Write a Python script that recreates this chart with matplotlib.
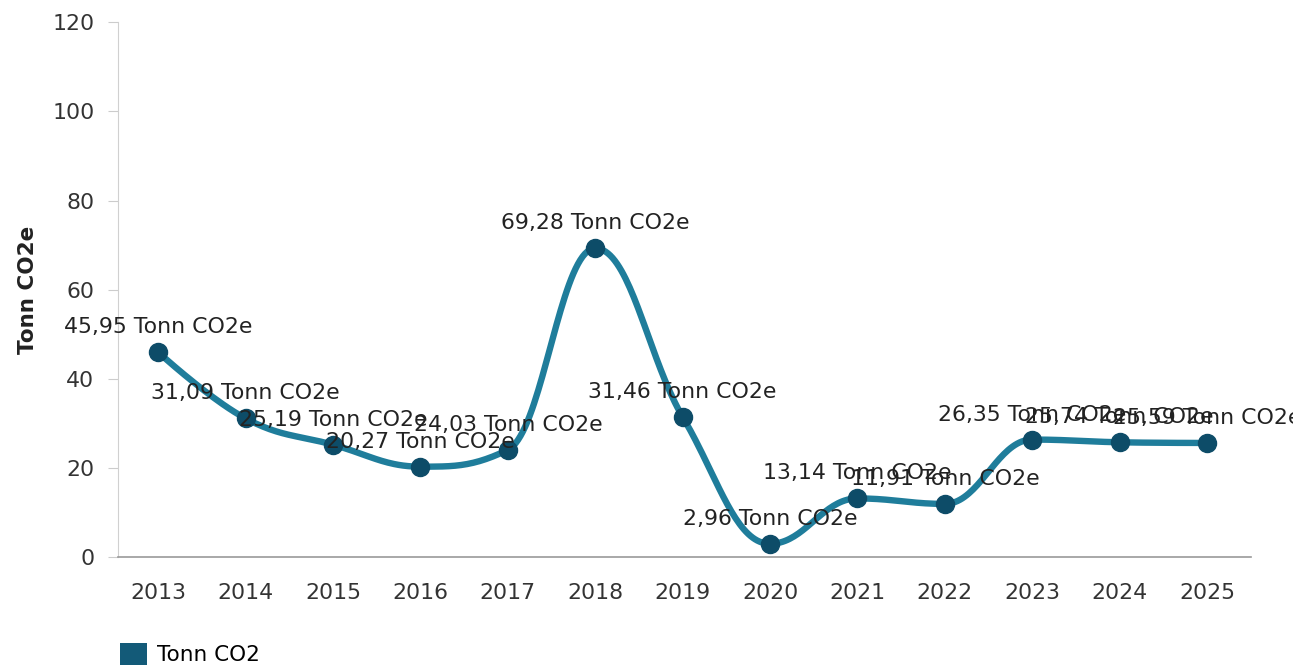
import numpy as np
import matplotlib
matplotlib.use("Agg")
import matplotlib.pyplot as plt
from matplotlib.patches import Patch

years = [2013, 2014, 2015, 2016, 2017, 2018, 2019, 2020, 2021, 2022, 2023, 2024, 2025]
values = [45.95, 31.09, 25.19, 20.27, 24.03, 69.28, 31.46, 2.96, 13.14, 11.91, 26.35, 25.74, 25.59]
labels = ["45,95 Tonn CO2e", "31,09 Tonn CO2e", "25,19 Tonn CO2e", "20,27 Tonn CO2e",
          "24,03 Tonn CO2e", "69,28 Tonn CO2e", "31,46 Tonn CO2e", "2,96 Tonn CO2e",
          "13,14 Tonn CO2e", "11,91 Tonn CO2e", "26,35 Tonn CO2e", "25,74 Tonn CO2e",
          "25,59 Tonn CO2e"]

line_color = '#1f7d9b'
marker_color = '#0d4c68'


def spline_path(x, y, steps=40, smoothing=1.5):
    # bezier spline through the points with clamped control points (drawing only)
    x = np.asarray(x, float)
    y = np.asarray(y, float)
    n = len(x)
    lc = [(x[i], y[i]) for i in range(n)]
    rc = [(x[i], y[i]) for i in range(n)]
    d = smoothing + 1
    for i in range(1, n - 1):
        lx = (smoothing * x[i] + x[i - 1]) / d
        ly = (smoothing * y[i] + y[i - 1]) / d
        rx = (smoothing * x[i] + x[i + 1]) / d
        ry = (smoothing * y[i] + y[i + 1]) / d
        corr = (ry - ly) * (rx - x[i]) / (rx - lx) + y[i] - ry
        ly += corr
        ry += corr
        if ly > max(y[i - 1], y[i]):
            ly = max(y[i - 1], y[i]); ry = 2 * y[i] - ly
        elif ly < min(y[i - 1], y[i]):
            ly = min(y[i - 1], y[i]); ry = 2 * y[i] - ly
        if ry > max(y[i + 1], y[i]):
            ry = max(y[i + 1], y[i]); ly = 2 * y[i] - ry
        elif ry < min(y[i + 1], y[i]):
            ry = min(y[i + 1], y[i]); ly = 2 * y[i] - ry
        lc[i] = (lx, ly)
        rc[i] = (rx, ry)
    t = np.linspace(0, 1, steps)[:, None]
    pts = []
    for i in range(n - 1):
        p0 = np.array([x[i], y[i]])
        p1 = np.array(rc[i])
        p2 = np.array(lc[i + 1])
        p3 = np.array([x[i + 1], y[i + 1]])
        b = ((1 - t) ** 3) * p0 + 3 * ((1 - t) ** 2) * t * p1 + 3 * (1 - t) * t ** 2 * p2 + t ** 3 * p3
        pts.append(b)
    pts = np.vstack(pts)
    return pts[:, 0], pts[:, 1]


fig = plt.figure(figsize=(12.93, 6.7), dpi=100)
ax = fig.add_axes([0.0913, 0.1687, 0.876, 0.798])

sx, sy = spline_path(years, values)
ax.plot(sx, sy, color=line_color, linewidth=4.6, solid_capstyle='round', zorder=2)
ax.plot(years, values, 'o', color=marker_color, markersize=13, zorder=3)

for x, y, t in zip(years, values, labels):
    ax.annotate(t, (x, y), xytext=(0, 18), textcoords='offset points',
                ha='center', va='center', fontsize=15.8, color='#222222',
                annotation_clip=False, zorder=4)

ax.set_xlim(2012.54, 2025.5)
ax.set_ylim(0, 120)
ax.set_xticks(years)
ax.set_yticks([0, 20, 40, 60, 80, 100, 120])
ax.tick_params(axis='x', length=0, pad=19, labelsize=15.8, labelcolor='#333333')
ax.tick_params(axis='y', length=7, width=0.8, color='#cccccc', pad=10,
               labelsize=15.8, labelcolor='#333333')
for side in ['top', 'right']:
    ax.spines[side].set_visible(False)
ax.spines['left'].set_color('#d0d0d0')
ax.spines['bottom'].set_color('#999999')
ax.spines['bottom'].set_linewidth(1.2)

ax.set_ylabel("Tonn CO2e", fontsize=15.5, fontweight='bold', color='#222222', labelpad=10)

handle = Patch(facecolor='#135a78', edgecolor='none')
fig.legend(handles=[handle], labels=["Tonn CO2"], loc='lower left',
           bbox_to_anchor=(0.078, -0.022), frameon=False, fontsize=15.5,
           handlelength=1.25, handleheight=1.25, handletextpad=0.45)

fig.savefig("out.png", dpi=100)
